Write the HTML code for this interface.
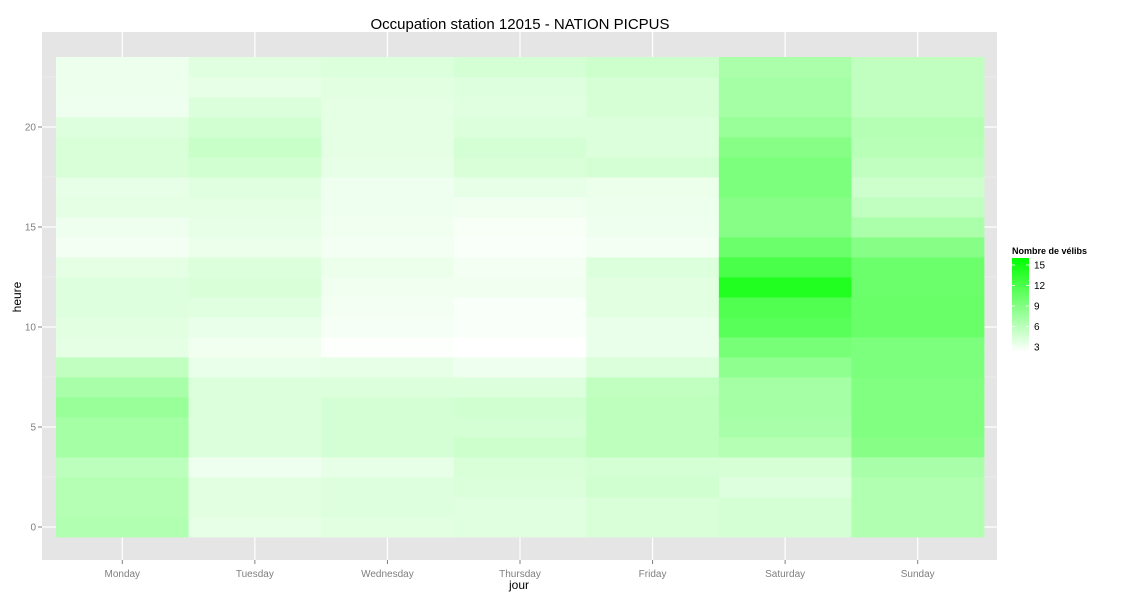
<!DOCTYPE html>
<html><head><meta charset="utf-8">
<style>
body{margin:0;background:#fff;font-family:"Liberation Sans",Arial,sans-serif;}
svg text{font-family:"Liberation Sans",Arial,sans-serif;}
</style></head>
<body>
<svg id="chart" width="1125" height="600" xmlns="http://www.w3.org/2000/svg">
<rect x="0" y="0" width="1125" height="600" fill="#fff"/>
<text x="520" y="29" text-anchor="middle" font-size="15" fill="#000">Occupation station 12015 - NATION PICPUS</text>
<rect x="42" y="32" width="955" height="528" fill="#E5E5E5"/>
<g id="grid"></g>
<g id="tiles"></g>
<g id="axes"></g>
<text x="519" y="589" text-anchor="middle" font-size="12" fill="#000">jour</text>
<text transform="translate(21,297) rotate(-90)" text-anchor="middle" font-size="12" fill="#000">heure</text>
<g>
<text x="1012" y="254" font-size="9" font-weight="bold" fill="#000">Nombre de vélibs</text>
<defs><linearGradient id="lg" x1="0" y1="0" x2="0" y2="1"><stop offset="0" stop-color="#00FF00"/><stop offset="1" stop-color="#FFFFFF"/></linearGradient></defs>
<rect x="1012" y="258" width="17" height="94" fill="url(#lg)"/>
<g id="legticks"></g>
</g>
</svg>
<script>
const days = ["Monday","Tuesday","Wednesday","Thursday","Friday","Saturday","Sunday"];
const hours = [0,1,2,3,4,5,6,7,8,9,10,11,12,13,14,15,16,17,18,19,20,21,22,23];
const monday = [7.0,6.8,6.8,6.4,7.6,7.6,8.2,7.4,6.2,4.4,4.5,4.7,4.7,4.4,3.6,3.8,4.4,4.3,5.0,5.0,4.7,3.8,3.9,3.9];
const tuesday = [4.3,4.5,4.5,3.8,4.8,4.8,4.8,4.8,4.1,3.7,4.1,4.6,5.0,4.8,4.0,4.3,4.4,4.6,5.3,5.8,5.3,4.9,4.3,4.6];
const wednesday = [4.5,4.7,4.7,4.2,5.2,5.2,5.2,4.8,4.3,3.1,3.5,3.6,3.7,4.0,3.6,3.7,3.8,3.8,4.3,4.4,4.4,4.4,4.5,4.8];
const thursday = [4.6,4.6,4.9,5.0,5.6,5.2,5.4,4.8,3.8,3.0,3.3,3.3,3.7,3.6,3.3,3.4,3.7,4.2,5.0,5.2,4.8,4.6,4.7,5.2];
const friday = [5.0,5.0,5.4,5.2,6.3,6.3,6.3,6.2,4.9,4.1,4.1,4.5,4.5,4.8,3.6,3.8,3.9,4.0,5.2,4.8,4.8,5.1,5.1,5.6];
const saturday = [5.2,5.2,4.7,5.1,6.8,7.4,7.6,7.6,8.7,9.9,11.5,11.9,14.3,12.3,10.5,9.1,9.1,9.7,9.7,9.1,8.2,7.6,7.6,7.3];
const sunday = [7.0,7.0,7.0,7.4,9.1,9.5,9.5,9.5,9.7,9.7,10.7,10.7,10.5,10.5,9.1,7.3,6.2,5.6,6.2,6.6,6.8,6.2,6.2,6.2];
const yTicks = [0,5,10,15,20];
const legendTicks = [3,6,9,12,15];

const series = [monday,tuesday,wednesday,thursday,friday,saturday,sunday];
const NS = "http://www.w3.org/2000/svg";
const vMin = 3, vMax = 16;
const xStep = 132.57, x0 = 56;
function xCenter(i){ return x0 + xStep*(i+0.5); }
function yPos(h){ return 527 - 20*h; }
function color(v){
  let t = (v - vMin)/(vMax - vMin); t = Math.max(0, Math.min(1, t));
  const c = Math.round(255*(1-t));
  return "rgb("+c+",255,"+c+")";
}
function mk(tag, attrs, parent){
  const e = document.createElementNS(NS, tag);
  for (const k in attrs) e.setAttribute(k, attrs[k]);
  parent.appendChild(e); return e;
}
const grid = document.getElementById("grid");
// minor y grid
for (let h = 2.5; h < 23.5; h += 5) {
  const l = mk("line",{x1:42,x2:997,y1:yPos(h),y2:yPos(h),stroke:"#F2F2F2","stroke-width":0.6},grid);
  
  
}
yTicks.forEach(t=>{
  const l = mk("line",{x1:42,x2:997,y1:yPos(t),y2:yPos(t),stroke:"#FFFFFF","stroke-width":1.2},grid);
  
  
});
days.forEach((d,i)=>{
  const l = mk("line",{x1:xCenter(i),x2:xCenter(i),y1:32,y2:560,stroke:"#FFFFFF","stroke-width":1.2},grid);
  
  
});
const tiles = document.getElementById("tiles");
series.forEach((vals,i)=>{
  vals.forEach((v,j)=>{
    const h = hours[j];
    const r = mk("rect",{x:(xCenter(i)-xStep/2).toFixed(2),y:(yPos(h)-10).toFixed(2),width:(xStep+0.4).toFixed(2),height:20.4,fill:color(v)},tiles);
    
    
  });
});
const axes = document.getElementById("axes");
yTicks.forEach(t=>{
  const tx = mk("text",{x:36,y:yPos(t)+3.5,"text-anchor":"end","font-size":10,fill:"#7F7F7F"},axes);
  tx.textContent = t;
  
  
  const tk = mk("line",{x1:38,x2:42,y1:yPos(t),y2:yPos(t),stroke:"#7F7F7F","stroke-width":1},axes);
  
  
});
days.forEach((d,i)=>{
  const tx = mk("text",{x:xCenter(i),y:577,"text-anchor":"middle","font-size":10,fill:"#7F7F7F"},axes);
  tx.textContent = d;
  
  
  const tk = mk("line",{x1:xCenter(i),x2:xCenter(i),y1:560,y2:564,stroke:"#7F7F7F","stroke-width":1},axes);
  
  
});
const lt = document.getElementById("legticks");
function legY(v){ return 347 - (v-3)*(82/12); }
legendTicks.forEach(v=>{
  const tx = mk("text",{x:1034,y:legY(v)+3.5,"font-size":10,fill:"#000"},lt);
  tx.textContent = v;
  
  
  const l1 = mk("line",{x1:1012,x2:1015,y1:legY(v),y2:legY(v),stroke:"#fff","stroke-width":0.8},lt);
  
  
  const l2 = mk("line",{x1:1026,x2:1029,y1:legY(v),y2:legY(v),stroke:"#fff","stroke-width":0.8},lt);
  
  
});
</script>
</body></html>
